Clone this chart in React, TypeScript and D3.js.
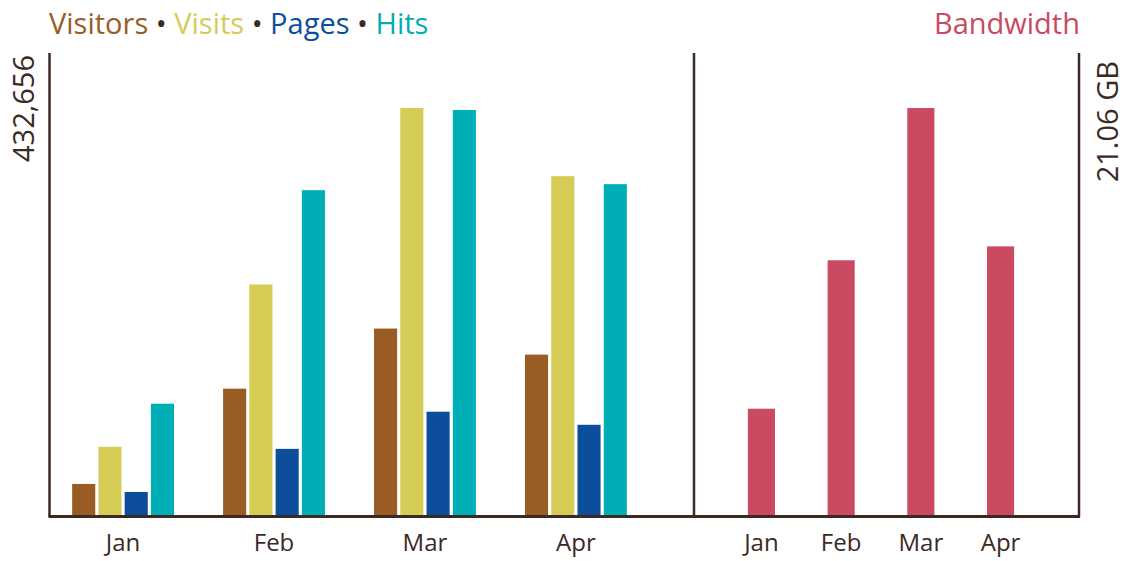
import React from "react";
import * as d3 from "d3";

const months = ["Jan", "Feb", "Mar", "Apr"];
const series = ["Visitors", "Visits", "Pages", "Hits"];
const seriesColors = ["#995c25", "#d5cc55", "#0c4e9c", "#00aeb6"];
const visitors = [33000, 134300, 198200, 170500];
const visits = [72500, 245100, 432656, 360200];
const pages = [24500, 70300, 109800, 95900];
const hits = [118300, 345300, 430500, 351700];
const bandwidthGB = [5.5, 13.18, 21.06, 13.9];
const leftMaxLabel = "432,656";
const rightMaxLabel = "21.06 GB";
const bandwidthColor = "#ca4a62";

const ink = "#3b2a24";
const font = "'Open Sans', sans-serif";

const W = 1127;
const H = 561;
const baseY = 515;
const topY = 108;

const App = () => {
  const values = [visitors, visits, pages, hits];

  const xGroup = d3
    .scaleBand<string>()
    .domain(months)
    .range([48, 651])
    .paddingInner(0.325)
    .paddingOuter(0.16);

  const xInner = d3
    .scaleBand<string>()
    .domain(series)
    .range([0, xGroup.bandwidth()])
    .paddingInner(0.12);

  const yLeft = d3
    .scaleLinear()
    .domain([0, d3.max(values.flat()) as number])
    .range([baseY, topY]);

  const xRight = d3
    .scaleBand<string>()
    .domain(months)
    .range([716, 1046])
    .paddingInner(0.66)
    .paddingOuter(0.4);

  const yRight = d3
    .scaleLinear()
    .domain([0, d3.max(bandwidthGB) as number])
    .range([baseY, topY]);

  return (
    <svg
      width={W}
      height={H}
      style={{ position: "absolute", left: 0, top: 0, background: "#fff" }}
      fontFamily={font}
    >
      {/* legend */}
      <text x={49} y={34} fontSize={29}>
        {series.map((s, i) => (
          <React.Fragment key={s}>
            <tspan fill={seriesColors[i]}>{s}</tspan>
            {i < series.length - 1 && <tspan fill={ink}>{" • "}</tspan>}
          </React.Fragment>
        ))}
      </text>
      <text x={1080} y={34} fontSize={29} fill={bandwidthColor} textAnchor="end">
        Bandwidth
      </text>

      {/* max labels */}
      <text
        transform={`translate(34,55) rotate(-90)`}
        textAnchor="end"
        fontSize={29}
        fill={ink}
      >
        {leftMaxLabel}
      </text>
      <text
        transform={`translate(1118,61) rotate(-90)`}
        textAnchor="end"
        fontSize={29}
        fill={ink}
      >
        {rightMaxLabel}
      </text>

      {/* left bars */}
      {months.map((m, mi) => (
        <g key={m} transform={`translate(${xGroup(m)},0)`}>
          {series.map((s, si) => (
            <rect
              key={s}
              x={xInner(s)}
              y={yLeft(values[si][mi])}
              width={xInner.bandwidth()}
              height={baseY - yLeft(values[si][mi])}
              fill={seriesColors[si]}
            />
          ))}
        </g>
      ))}

      {/* right bars */}
      {months.map((m, mi) => (
        <rect
          key={m}
          x={xRight(m)}
          y={yRight(bandwidthGB[mi])}
          width={xRight.bandwidth()}
          height={baseY - yRight(bandwidthGB[mi])}
          fill={bandwidthColor}
        />
      ))}

      {/* axes */}
      <g stroke={ink} fill="none">
        <line x1={49.5} x2={49.5} y1={53} y2={517} strokeWidth={2.5} />
        <line x1={694} x2={694} y1={53} y2={517} strokeWidth={2.5} />
        <line x1={1079} x2={1079} y1={53} y2={517} strokeWidth={2.5} />
        <line x1={48.5} x2={1080} y1={516.5} y2={516.5} strokeWidth={3} />
      </g>

      {/* month labels */}
      {months.map((m) => (
        <text
          key={"l" + m}
          x={(xGroup(m) as number) + xGroup.bandwidth() / 2}
          y={551}
          fontSize={24}
          fill={ink}
          textAnchor="middle"
        >
          {m}
        </text>
      ))}
      {months.map((m) => (
        <text
          key={"r" + m}
          x={(xRight(m) as number) + xRight.bandwidth() / 2}
          y={551}
          fontSize={24}
          fill={ink}
          textAnchor="middle"
        >
          {m}
        </text>
      ))}
    </svg>
  );
};

export default App;
